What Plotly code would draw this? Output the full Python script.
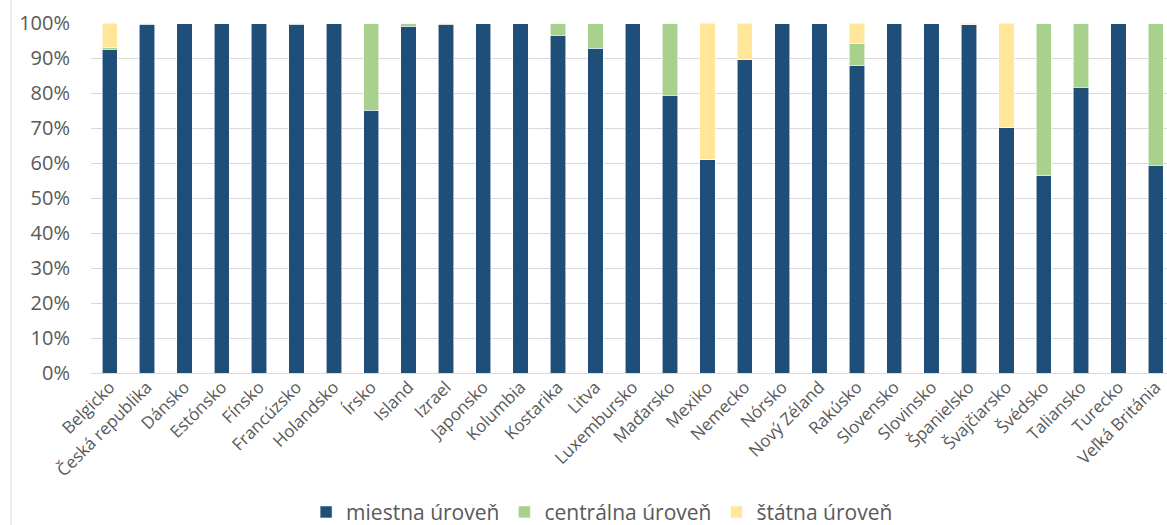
import plotly.graph_objects as go

# Countries along the category axis
countries = [
    "Belgicko", "Česká republika", "Dánsko", "Estónsko", "Fínsko", "Francúzsko",
    "Holandsko", "Írsko", "Island", "Izrael", "Japonsko", "Kolumbia", "Kostarika",
    "Litva", "Luxembursko", "Maďarsko", "Mexiko", "Nemecko", "Nórsko", "Nový Zéland",
    "Rakúsko", "Slovensko", "Slovinsko", "Španielsko", "Švajčiarsko", "Švédsko",
    "Taliansko", "Turecko", "Veľká Británia",
]

# Shares (%) per level of government
miestna = [92.5, 99.6, 100, 100, 100, 99.6, 100, 75.1, 99.1, 99.6, 100, 100, 96.5,
           92.8, 100, 79.4, 61.1, 89.7, 100, 100, 87.8, 100, 100, 99.5, 70.2, 56.4,
           81.6, 100, 59.4]
centralna = [0.5, 0.4, 0, 0, 0, 0.4, 0, 24.9, 0.9, 0.4, 0, 0, 3.5,
             7.2, 0, 20.6, 0, 0, 0, 0, 6.4, 0, 0, 0, 0, 43.6,
             18.4, 0, 40.6]
statna = [7.0, 0, 0, 0, 0, 0, 0, 0, 0, 0, 0, 0, 0,
          0, 0, 0, 38.9, 10.3, 0, 0, 5.8, 0, 0, 0.5, 29.8, 0,
          0, 0, 0]

series_names = ["miestna úroveň", "centrálna úroveň", "štátna úroveň"]
series_colors = ["#1F4E79", "#A9D18E", "#FFE699"]

tick_vals = [0, 10, 20, 30, 40, 50, 60, 70, 80, 90, 100]
tick_text = [f"{v}%" for v in tick_vals]

FONT = "Open Sans"
GREY = "#595959"

fig = go.Figure()
for name, vals, col in zip(series_names, [miestna, centralna, statna], series_colors):
    fig.add_trace(go.Bar(
        x=countries, y=vals, name=name,
        marker=dict(color=col, line=dict(color="rgba(255,255,255,0.7)", width=0.8)),
    ))

fig.update_layout(
    width=1167, height=525,
    autosize=False,
    barmode="stack",
    bargap=0.59,
    plot_bgcolor="white",
    paper_bgcolor="white",
    margin=dict(l=91, r=0, t=23, b=152, autoexpand=False),
    font=dict(family=FONT, color=GREY),
    xaxis=dict(
        range=[-0.5, 28.3],
        tickangle=-45,
        tickfont=dict(size=17, color=GREY, family=FONT),
        showgrid=False,
        showline=False,
        ticks="",
        automargin=False,
    ),
    yaxis=dict(
        range=[0, 100],
        tickvals=tick_vals,
        ticktext=tick_text,
        tickfont=dict(size=20, color=GREY, family=FONT),
        showgrid=True,
        gridcolor="#D9D9D9",
        gridwidth=1,
        zeroline=True,
        zerolinecolor="#D9D9D9",
        zerolinewidth=1,
        ticks="",
        ticklabelstandoff=20,
        automargin=False,
    ),
    legend=dict(
        orientation="h",
        x=0.475, xanchor="center",
        y=-0.398, yanchor="middle",
        font=dict(size=21, color=GREY, family=FONT),
        traceorder="normal",
        itemwidth=30,
    ),
    shapes=[
        # chart area border on the left
        dict(type="line", xref="paper", yref="paper",
             x0=-80 / 1076, x1=-80 / 1076, y0=-152 / 350, y1=1 + 23 / 350,
             line=dict(color="#D9D9D9", width=1)),
    ],
)

fig.write_html("out.html")
